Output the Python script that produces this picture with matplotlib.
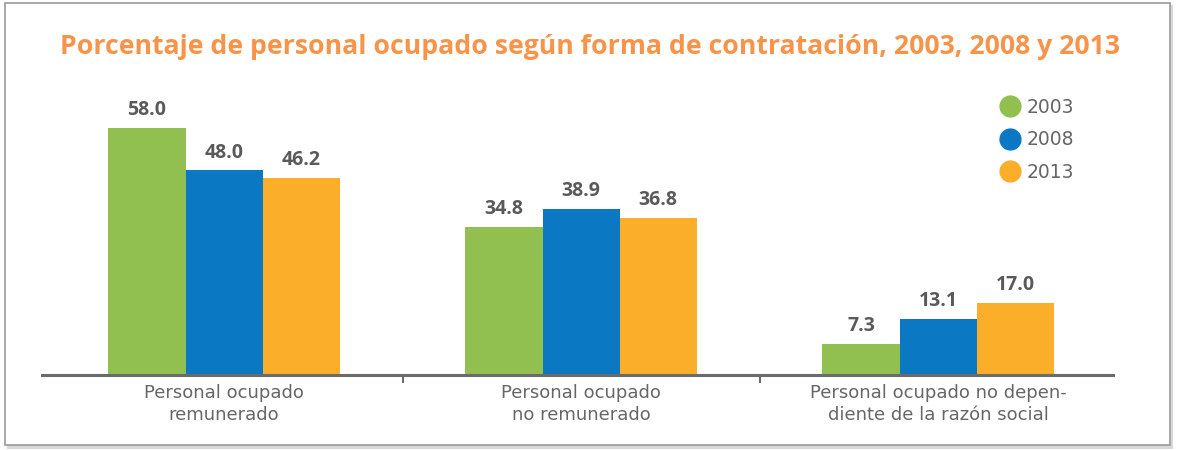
import matplotlib.pyplot as plt
import numpy as np
from matplotlib.patches import Rectangle

# Data
categories = ['Personal ocupado\nremunerado',
              'Personal ocupado\nno remunerado',
              'Personal ocupado no depen-\ndiente de la razón social']
years = ['2003', '2008', '2013']
values_2003 = [58.0, 34.8, 7.3]
values_2008 = [48.0, 38.9, 13.1]
values_2013 = [46.2, 36.8, 17.0]

colors = ['#92C050', '#0A78C2', '#FBAE2A']
title_color = '#F7944A'
text_gray = '#5a5a5a'

W, H = 1181, 450
fig = plt.figure(figsize=(W / 100, H / 100), dpi=100)
fig.patch.set_facecolor('white')

# frame with a soft shadow
fig.patches.append(Rectangle((7 / W, 1 - 449 / H), 1166 / W, 444 / H, transform=fig.transFigure,
                             facecolor='#d8d8d8', edgecolor='none', zorder=-2))
fig.patches.append(Rectangle((5 / W, 1 - 445 / H), 1165 / W, 442 / H, transform=fig.transFigure,
                             facecolor='white', edgecolor='#9a9a9a', lw=1.2, zorder=-1))

ax = fig.add_axes([42 / W, 1 - 375 / H, (1113 - 42) / W, 275 / H])
ax.set_facecolor('none')
ax.set_zorder(2)

x = np.arange(len(categories))
width = 0.216
series = [values_2003, values_2008, values_2013]
for i, (vals, c, yr) in enumerate(zip(series, colors, years)):
    pos = x + (i - 1) * width
    ax.bar(pos, vals, width=width, color=c, label=yr, zorder=2)
    for p, v in zip(pos, vals):
        ax.text(p, v + 1.8, f'{v:.1f}', ha='center', va='bottom', fontsize=14,
                fontweight='bold', color=text_gray, family='Open Sans')

ax.set_xlim(-0.51, 2.49)
ax.set_ylim(0, 64.5)

for s in ['top', 'right', 'left']:
    ax.spines[s].set_visible(False)
ax.spines['bottom'].set_color('#6b6b6b')
ax.spines['bottom'].set_linewidth(2.2)
ax.set_yticks([])
ax.set_xticks([0.5, 1.5])
ax.set_xticklabels([])
ax.tick_params(axis='x', direction='out', length=6, width=1.5, color='#6b6b6b')

for xi, cat in zip(x, categories):
    ax.text(xi, -2.0, cat, ha='center', va='top', fontsize=13, color='#666666',
            linespacing=1.3, family='DejaVu Sans')

# legend
handles = [plt.Line2D([], [], marker='o', ls='', markersize=15, color=c) for c in colors]
leg = ax.legend(handles, years, loc='upper left', bbox_to_anchor=(950 / (1113 - 42), 1.035),
                frameon=False, handletextpad=0.35, labelspacing=0.72, fontsize=13.5,
                handlelength=1.1, borderaxespad=0)
for t in leg.get_texts():
    t.set_color('#666666')

fig.text(590 / W, 1 - 47 / H, 'Porcentaje de personal ocupado según forma de contratación, 2003, 2008 y 2013',
         ha='center', va='center', fontsize=19.2, fontweight='bold', color=title_color,
         family='Open Sans')

fig.savefig('out.png', dpi=100, facecolor='white')
